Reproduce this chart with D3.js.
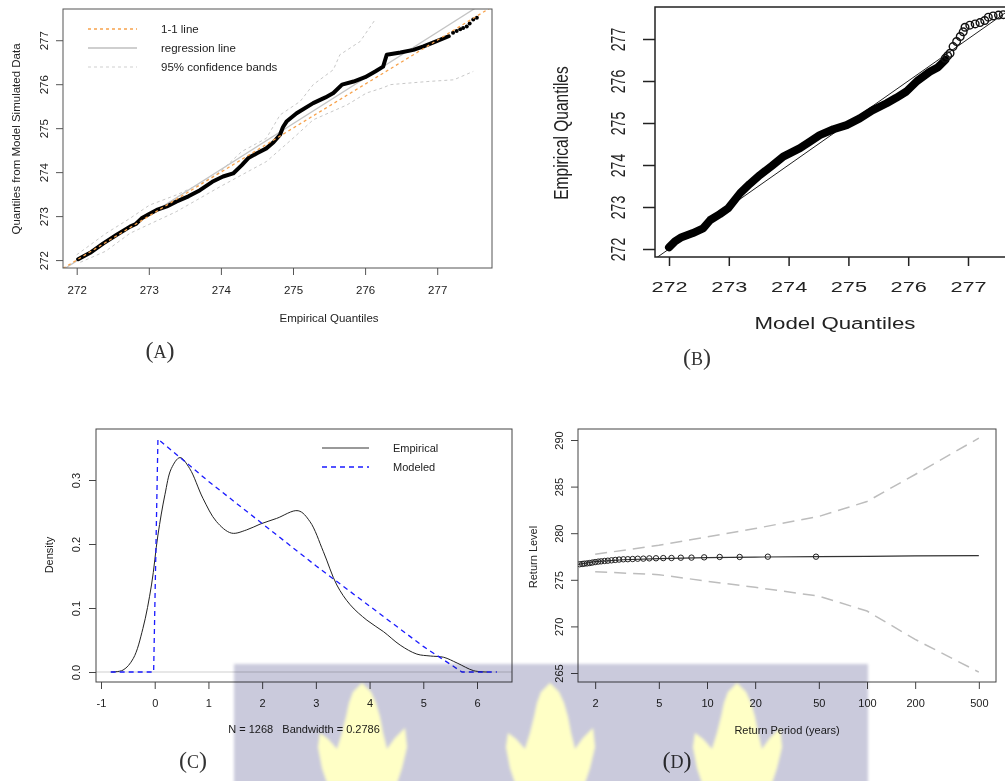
<!DOCTYPE html>
<html>
<head>
<meta charset="utf-8">
<script src="https://cdn.jsdelivr.net/npm/d3@7"></script>
<style>
body { margin: 0; background: #fff; }
svg text { font-family: "Liberation Sans", Arial, sans-serif; fill: #222; }
</style>
</head>
<body>
<svg id="fig" width="1005" height="781"></svg>
<script>
// ---------- Panel A: QQ plot of simulated vs empirical quantiles ----------
const qqEmpA = [[272.02,272.02],[272.2,272.18],[272.37,272.38],[272.55,272.57],[272.74,272.76],[272.82,272.82],
	[272.9,272.95],[273.0,273.04],[273.11,273.14],[273.25,273.22],[273.38,273.33],[273.55,273.45],[273.71,273.59],
	[273.88,273.78],[274.03,273.9],[274.17,273.97],[274.29,274.16],[274.38,274.32],[274.5,274.43],[274.63,274.54],
	[274.73,274.68],[274.82,274.85],[274.86,275.02],[274.91,275.15],[275.05,275.34],[275.28,275.57],[275.45,275.7],
	[275.56,275.8],[275.68,275.99],[275.84,276.06],[276.0,276.16],[276.14,276.29],[276.25,276.4],[276.3,276.67],
	[276.49,276.72],[276.67,276.78],[276.81,276.86],[276.95,276.95],[277.16,277.09]];
const qqTailA = [[277.22,277.17],[277.27,277.21],[277.32,277.25],[277.36,277.28],[277.41,277.31],[277.45,277.38],[277.5,277.47],[277.55,277.51]];
const bandUpperA = [[272.0,272.12],[272.4,272.6],[272.74,272.95],[273.01,273.25],[273.38,273.48],[273.7,273.72],
	[273.99,274.01],[274.29,274.47],[274.63,274.77],[274.82,275.3],[275.1,275.61],[275.28,275.99],[275.56,276.33],
	[275.65,276.67],[275.93,276.97],[276.14,277.47]];
const bandLowerA = [[272.05,271.95],[272.4,272.2],[272.74,272.61],[273.38,273.1],[273.99,273.67],[274.63,274.24],
	[275.0,274.77],[275.28,275.19],[275.75,275.53],[276.02,275.8],[276.25,275.92],[276.35,275.99],[276.86,276.06],
	[277.23,276.1],[277.5,276.29]];
const regInterceptA = 271.98; // value at x = 272
const regSlopeA = 1.04;
const ticksA = [272, 273, 274, 275, 276, 277];
const legendA = ["1-1 line", "regression line", "95% confidence bands"];

// ---------- Panel B: empirical vs model quantiles ----------
const qqMainB = [[272.0,272.04],[272.1,272.18],[272.21,272.28],[272.4,272.38],[272.57,272.49],[272.69,272.69],
	[272.85,272.83],[272.99,272.97],[273.19,273.33],[273.35,273.55],[273.52,273.76],[273.72,273.98],[273.91,274.2],
	[274.19,274.4],[274.35,274.55],[274.52,274.71],[274.75,274.85],[274.97,274.95],[275.19,275.11],[275.4,275.3],
	[275.64,275.47],[275.8,275.6],[275.97,275.75],[276.15,276.0],[276.36,276.22],[276.5,276.33],[276.62,276.5]];
const qqTailB = [[276.62,276.54],[276.66,276.6],[276.7,276.66],[276.75,276.82],[276.81,276.94],[276.87,277.06],
	[276.92,277.17],[276.95,277.28],[277.03,277.33],[277.12,277.36],[277.2,277.39],[277.28,277.44],[277.34,277.52],
	[277.42,277.55],[277.51,277.57],[277.59,277.58]];
const ticksB = [272, 273, 274, 275, 276, 277];

// ---------- Panel C: density, empirical vs modeled ----------
const densX = [-0.81,-0.59,-0.4,-0.22,-0.06,0.06,0.19,0.31,0.47,0.65,0.9,1.15,1.43,1.71,1.96,2.27,2.67,2.89,3.14,
	3.39,3.64,3.95,4.26,4.57,4.88,5.13,5.38,5.63,5.94,6.19];
const densY = [0,0.003,0.021,0.068,0.136,0.214,0.277,0.318,0.335,0.318,0.271,0.235,0.217,0.222,0.231,0.24,0.252,
	0.235,0.188,0.136,0.105,0.081,0.063,0.042,0.028,0.025,0.023,0.014,0.002,0];
const modX = [-0.82,-0.02,0.06,1,2,3,4,5,5.72,6.37];
const modY = [0,0,0.364,0.298,0.232,0.166,0.103,0.04,0,0];
const xTicksC = [-1, 0, 1, 2, 3, 4, 5, 6];
const yTicksC = [0.0, 0.1, 0.2, 0.3];
const legendC = ["Empirical", "Modeled"];

// ---------- Panel D: return level plot ----------
const rlPeriods = [1.56, 1.8, 2, 3, 5, 10, 20, 50, 100, 200, 500];
const rlLevels = [276.66, 276.82, 276.94, 277.15, 277.27, 277.37, 277.44, 277.48, 277.52, 277.56, 277.59];
const ciPeriods = [2, 5, 10, 20, 50, 100, 200, 500];
const ciUpper = [277.74, 278.7, 279.6, 280.5, 281.8, 283.4, 286.3, 290.2];
const ciLower = [275.87, 275.55, 274.85, 274.2, 273.25, 271.65, 268.6, 265.1];
const empPeriods = [48, 24, 16, 12, 9.6, 8, 6.86, 6, 5.33, 4.8, 4.36, 4, 3.69, 3.43, 3.2, 3, 2.82, 2.67, 2.53, 2.4,
	2.29, 2.18, 2.09, 2, 1.92, 1.85, 1.78, 1.71, 1.66, 1.6];
const empLevels = [277.48, 277.48, 277.45, 277.45, 277.41, 277.38, 277.37, 277.34, 277.33, 277.31, 277.3, 277.27,
	277.26, 277.23, 277.21, 277.2, 277.17, 277.13, 277.09, 277.05, 277.02, 276.98, 276.95, 276.9, 276.85, 276.8,
	276.76, 276.73, 276.7, 276.67];
const xTicksD = [2, 5, 10, 20, 50, 100, 200, 500];
const yTicksD = [265, 270, 275, 280, 285, 290];

const svg = d3.select("#fig");
svg.append("rect").attr("width", 1005).attr("height", 781).attr("fill", "#fff");
const defs = svg.append("defs");

function makeClip(id, x0, y0, x1, y1) {
	defs.append("clipPath").attr("id", id)
		.append("rect").attr("x", x0).attr("y", y0).attr("width", x1 - x0).attr("height", y1 - y0);
	return `url(#${id})`;
}

// bottom axis with R-like ticks; labels placed below
function bottomAxis(scale, y, values, o) {
	const g = svg.append("g").attr("transform", `translate(0,${y})`)
		.call(d3.axisBottom(scale).tickValues(values).tickSize(o.tick).tickSizeOuter(0).tickFormat(o.fmt || (d => d)));
	g.select(".domain").remove();
	g.selectAll(".tick line").attr("stroke", o.color).attr("stroke-width", o.sw || 1);
	g.selectAll(".tick text").attr("y", o.top).attr("dy", "0.71em").attr("font-size", o.fs)
		.attr("transform", o.stretch ? `scale(${o.stretch},1)` : null);
	return g;
}

// left axis with rotated labels (R default las = 0)
function leftAxis(scale, x, values, o) {
	const g = svg.append("g").attr("transform", `translate(${x},0)`)
		.call(d3.axisLeft(scale).tickValues(values).tickSize(o.tick).tickSizeOuter(0).tickFormat(o.fmt || (d => d)));
	g.select(".domain").remove();
	g.selectAll(".tick line").attr("stroke", o.color).attr("stroke-width", o.sw || 1);
	const st = o.stretch || 1;
	g.selectAll(".tick text").attr("x", 0).attr("y", -o.off / st).attr("dy", 0).attr("text-anchor", "middle")
		.attr("font-size", o.fs).attr("transform", `scale(${st},1) rotate(-90)`);
	return g;
}

function frame(x0, y0, x1, y1, color, sw) {
	svg.append("rect").attr("x", x0).attr("y", y0).attr("width", x1 - x0).attr("height", y1 - y0)
		.attr("fill", "none").attr("stroke", color).attr("stroke-width", sw);
}

function label(text, x, y, fs, rotate, extra) {
	const t = svg.append("text").attr("text-anchor", "middle").attr("dy", "0.35em").attr("font-size", fs)
		.attr("transform", `translate(${x},${y})` + (extra || "") + (rotate ? " rotate(-90)" : ""))
		.text(text);
	return t;
}

function panelTag(letter, x, y) {
	const t = svg.append("text").attr("x", x).attr("y", y).attr("text-anchor", "middle").attr("dy", "0.35em")
		.style("font-family", "'Liberation Serif', 'DejaVu Serif', serif").attr("font-size", 24).style("fill", "#333");
	t.append("tspan").text("(");
	t.append("tspan").attr("font-size", 18).text(letter);
	t.append("tspan").text(")");
}

// ================= Panel A =================
{
	const x = d3.scaleLinear().domain([271.81, 277.76]).range([63, 492]);
	const y = d3.scaleLinear().domain([271.82, 277.71]).range([268, 9]);
	const clip = makeClip("clipA", 63, 9, 492, 268);
	const line = d3.line().x(d => x(d[0])).y(d => y(d[1]));
	const g = svg.append("g").attr("clip-path", clip);

	g.append("path").datum(bandUpperA).attr("d", line).attr("fill", "none")
		.attr("stroke", "#c8c8c8").attr("stroke-width", 1).attr("stroke-dasharray", "3,3");
	g.append("path").datum(bandLowerA).attr("d", line).attr("fill", "none")
		.attr("stroke", "#c8c8c8").attr("stroke-width", 1).attr("stroke-dasharray", "3,3");
	const xd = x.domain();
	g.append("line").attr("x1", x(xd[0])).attr("x2", x(xd[1]))
		.attr("y1", y(regInterceptA + regSlopeA * (xd[0] - 272))).attr("y2", y(regInterceptA + regSlopeA * (xd[1] - 272)))
		.attr("stroke", "#c4c4c4").attr("stroke-width", 1.3);
	g.append("path").datum(qqEmpA).attr("d", line).attr("fill", "none")
		.attr("stroke", "#000").attr("stroke-width", 4).attr("stroke-linejoin", "round").attr("stroke-linecap", "round");
	g.selectAll("circle.tail").data(qqTailA).join("circle").attr("class", "tail")
		.attr("cx", d => x(d[0])).attr("cy", d => y(d[1])).attr("r", 2).attr("fill", "#000");
	g.append("line").attr("x1", x(xd[0])).attr("y1", y(xd[0])).attr("x2", x(xd[1])).attr("y2", y(xd[1]))
		.attr("stroke", "#f7a24c").attr("stroke-width", 1.3).attr("stroke-dasharray", "3,3");

	// legend
	const styles = [
		{ stroke: "#f7a24c", dash: "3,3", w: 1.3 },
		{ stroke: "#cfcfcf", dash: null, w: 2 },
		{ stroke: "#cfcfcf", dash: "3,3", w: 1 }
	];
	legendA.forEach((t, i) => {
		const ly = 29 + i * 19;
		svg.append("line").attr("x1", 88).attr("x2", 137).attr("y1", ly).attr("y2", ly)
			.attr("stroke", styles[i].stroke).attr("stroke-width", styles[i].w).attr("stroke-dasharray", styles[i].dash);
		svg.append("text").attr("x", 161).attr("y", ly).attr("dy", "0.35em").attr("font-size", 11.5).text(t);
	});

	frame(63, 9, 492, 268, "#555", 1);
	bottomAxis(x, 268, ticksA, { tick: 7, color: "#555", top: 18, fs: 11.5 });
	leftAxis(y, 63, ticksA, { tick: 7, color: "#555", off: 15, fs: 11.5 });
	label("Empirical Quantiles", 329, 318, 11.5);
	label("Quantiles from Model Simulated Data", 16, 139, 11.5, true);
	panelTag("A", 160, 350);
}

// ================= Panel B =================
{
	const x = d3.scaleLinear().domain([272, 277]).range([669, 968]);
	const y = d3.scaleLinear().domain([272, 277]).range([249, 39]);
	const clip = makeClip("clipB", 655, 7, 1020, 257);
	const line = d3.line().x(d => x(d[0])).y(d => y(d[1]));
	const g = svg.append("g").attr("clip-path", clip);

	g.append("line").attr("x1", x(271.7)).attr("y1", y(271.7)).attr("x2", x(278)).attr("y2", y(278))
		.attr("stroke", "#222").attr("stroke-width", 1);
	g.append("path").datum(qqMainB).attr("d", line).attr("fill", "none")
		.attr("stroke", "#000").attr("stroke-width", 8).attr("stroke-linejoin", "round").attr("stroke-linecap", "round");
	g.selectAll("circle.tail").data(qqTailB).join("circle").attr("class", "tail")
		.attr("cx", d => x(d[0])).attr("cy", d => y(d[1])).attr("r", 3.8)
		.attr("fill", "none").attr("stroke", "#111").attr("stroke-width", 1.4);

	frame(655, 7, 1030, 257, "#222", 1.5);
	bottomAxis(x, 257, ticksB, { tick: 9, color: "#222", sw: 1.5, top: 24, fs: 15.5, stretch: 1.4 });
	leftAxis(y, 655, ticksB, { tick: 12, color: "#222", sw: 1.5, off: 30, fs: 14, stretch: 1.5 });
	label("Model Quantiles", 835, 323, 16.5, false, " scale(1.35,1)");
	label("Empirical Quantiles", 561, 133, 15.5, true, " scale(1.25,1)");
	panelTag("B", 697, 357);
}

// ================= Panel C =================
{
	const x = d3.scaleLinear().domain([-1, 6]).range([101, 477]);
	const y = d3.scaleLinear().domain([0, 0.3]).range([672, 480]);
	const clip = makeClip("clipC", 96, 429, 512, 682);
	const g = svg.append("g").attr("clip-path", clip);
	const dens = densX.map((d, i) => [d, densY[i]]);
	const mod = modX.map((d, i) => [d, modY[i]]);

	g.append("line").attr("x1", 96).attr("x2", 512).attr("y1", y(0)).attr("y2", y(0))
		.attr("stroke", "#cfcfcf").attr("stroke-width", 1);
	g.append("path").datum(dens)
		.attr("d", d3.line().x(d => x(d[0])).y(d => y(d[1])).curve(d3.curveCatmullRom.alpha(0.5)))
		.attr("fill", "none").attr("stroke", "#222").attr("stroke-width", 1);
	g.append("path").datum(mod)
		.attr("d", d3.line().x(d => x(d[0])).y(d => y(d[1])))
		.attr("fill", "none").attr("stroke", "#1a1aff").attr("stroke-width", 1.3).attr("stroke-dasharray", "5,4");

	legendC.forEach((t, i) => {
		const ly = 448 + i * 19;
		svg.append("line").attr("x1", 322).attr("x2", 369).attr("y1", ly).attr("y2", ly)
			.attr("stroke", i === 0 ? "#999" : "#1a1aff").attr("stroke-width", i === 0 ? 1.8 : 1.3)
			.attr("stroke-dasharray", i === 0 ? null : "5,4");
		svg.append("text").attr("x", 393).attr("y", ly).attr("dy", "0.35em").attr("font-size", 11).text(t);
	});

	frame(96, 429, 512, 682, "#444", 1);
	bottomAxis(x, 682, xTicksC, { tick: 7, color: "#444", top: 17, fs: 11 });
	leftAxis(y, 96, yTicksC, { tick: 7, color: "#444", off: 16, fs: 11, fmt: d3.format(".1f") });
	label("Density", 49, 555, 11, true);
	label("N = 1268   Bandwidth = 0.2786", 304, 729, 11).style("white-space", "pre");
	panelTag("C", 193, 760);
}

// ================= Panel D =================
{
	const x = d3.scaleLog().domain([10, 100]).range([707, 867]);
	const y = d3.scaleLinear().domain([265, 290]).range([673, 440]);
	const clip = makeClip("clipD", 578, 429, 996, 682);
	const g = svg.append("g").attr("clip-path", clip);
	const line = d3.line().x(d => x(d[0])).y(d => y(d[1]));

	g.append("path").datum(ciPeriods.map((p, i) => [p, ciUpper[i]])).attr("d", line).attr("fill", "none")
		.attr("stroke", "#bdbdbd").attr("stroke-width", 1.5).attr("stroke-dasharray", "12,7");
	g.append("path").datum(ciPeriods.map((p, i) => [p, ciLower[i]])).attr("d", line).attr("fill", "none")
		.attr("stroke", "#bdbdbd").attr("stroke-width", 1.5).attr("stroke-dasharray", "12,7");
	g.append("path").datum(rlPeriods.map((p, i) => [p, rlLevels[i]])).attr("d", line).attr("fill", "none")
		.attr("stroke", "#333").attr("stroke-width", 1.2);
	g.selectAll("circle").data(empPeriods.map((p, i) => [p, empLevels[i]])).join("circle")
		.attr("cx", d => x(d[0])).attr("cy", d => y(d[1])).attr("r", 2.7)
		.attr("fill", "none").attr("stroke", "#222").attr("stroke-width", 1);

	frame(578, 429, 996, 682, "#444", 1);
	bottomAxis(x, 682, xTicksD, { tick: 7, color: "#444", top: 17, fs: 11 });
	leftAxis(y, 578, yTicksD, { tick: 7, color: "#444", off: 15, fs: 11 });
	label("Return Level", 533, 557, 11, true);
	label("Return Period (years)", 787, 730, 11);
	panelTag("D", 677, 760);
}

// ================= watermark overlay =================
{
	const f = defs.append("filter").attr("id", "wmBlur").attr("x", "-5%").attr("y", "-5%").attr("width", "110%").attr("height", "110%");
	f.append("feGaussianBlur").attr("stdDeviation", 1.8);
	const wm = svg.append("g").style("mix-blend-mode", "multiply").attr("filter", "url(#wmBlur)");
	wm.append("rect").attr("x", 234).attr("y", 664).attr("width", 634).attr("height", 130).attr("fill", "#cacadc");
	const shape = [[0,0],[9,9],[14,20],[18,34],[21,50],[25,66],[33,55],[43,45],[45,64],[40,85],[35,100],
		[-35,100],[-40,85],[-44,64],[-42,50],[-34,56],[-25,66],[-20,50],[-16,34],[-13,20],[-9,9]];
	const shapeLine = d3.line().curve(d3.curveLinearClosed);
	[362, 550, 737].forEach(cx => {
		wm.append("path").attr("d", shapeLine(shape)).attr("transform", `translate(${cx},683)`).attr("fill", "#ffffc6");
	});
}
</script>
</body>
</html>
